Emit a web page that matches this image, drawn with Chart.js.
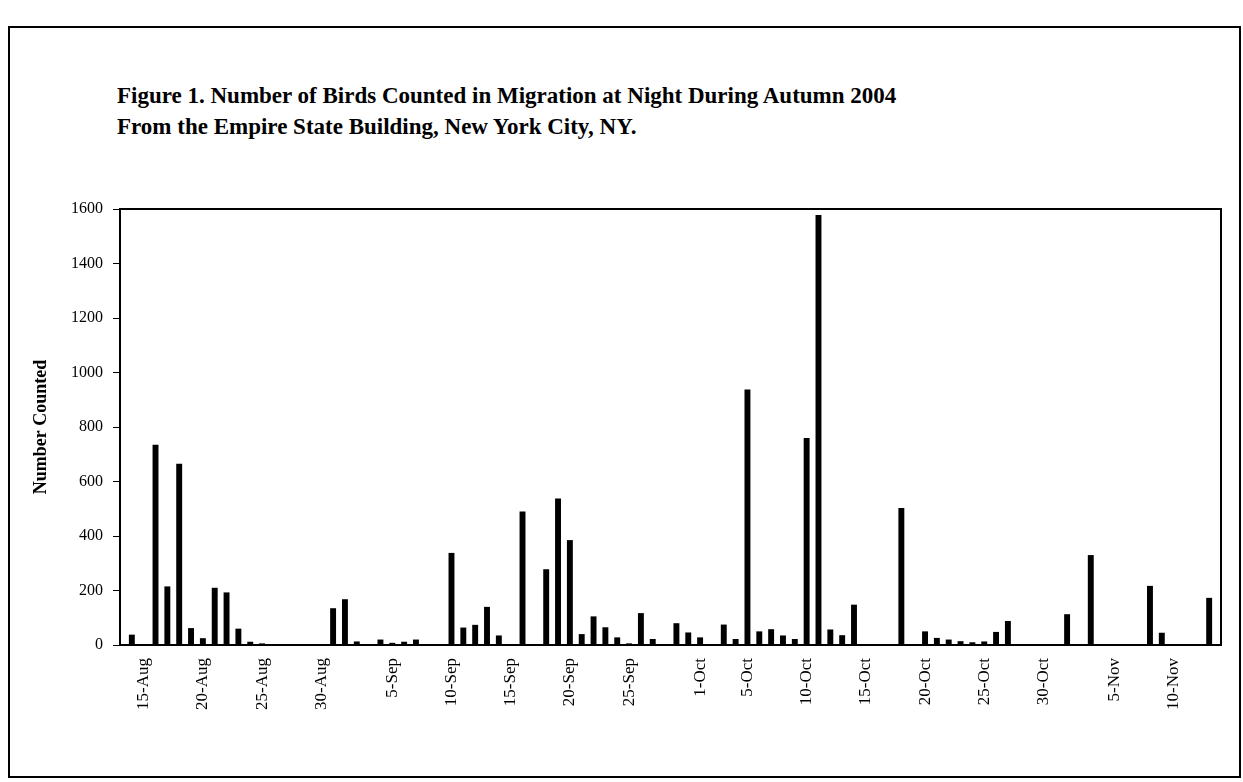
<!DOCTYPE html>
<html><head><meta charset="utf-8">
<script src="https://cdn.jsdelivr.net/npm/chart.js@4.4.1/dist/chart.umd.min.js"></script>
<style>
html,body{margin:0;padding:0;background:#fff;}
#wrap{position:relative;width:1243px;height:782px;overflow:hidden;background:#fff;}
#frame{position:absolute;left:8px;top:26px;width:1233px;height:752px;border:2px solid #000;box-sizing:border-box;}
#title{position:absolute;left:117px;top:80px;font:bold 23px 'Liberation Serif','Times New Roman',serif;line-height:31px;color:#000;white-space:nowrap;}
canvas{position:absolute;left:0;top:0;}
</style></head>
<body>
<div id="wrap">
<div id="frame"></div>
<div id="title">Figure 1. Number of Birds Counted in Migration at Night During Autumn 2004<br>From the Empire State Building, New York City, NY.</div>
<canvas id="c" width="1243" height="782"></canvas>
</div>
<script>
const categories = [
 '13-Aug','14-Aug','15-Aug','16-Aug','17-Aug','18-Aug','19-Aug','20-Aug','21-Aug','22-Aug','23-Aug','24-Aug','25-Aug','26-Aug','27-Aug','28-Aug','29-Aug','30-Aug','31-Aug',
 '1-Sep','2-Sep','3-Sep','4-Sep','5-Sep','6-Sep','7-Sep','8-Sep','9-Sep','10-Sep','11-Sep','12-Sep','13-Sep','14-Sep','15-Sep','16-Sep','17-Sep','18-Sep','19-Sep','20-Sep','21-Sep','22-Sep','23-Sep','24-Sep','25-Sep','26-Sep','27-Sep','28-Sep','29-Sep','30-Sep',
 '1-Oct','2-Oct','3-Oct','4-Oct','5-Oct','6-Oct','7-Oct','8-Oct','9-Oct','10-Oct','11-Oct','12-Oct','13-Oct','14-Oct','15-Oct','16-Oct','17-Oct','18-Oct','19-Oct','20-Oct','21-Oct','22-Oct','23-Oct','24-Oct','25-Oct','26-Oct','27-Oct','28-Oct','29-Oct','30-Oct','31-Oct',
 '1-Nov','2-Nov','3-Nov','4-Nov','5-Nov','6-Nov','7-Nov','8-Nov','9-Nov','10-Nov','11-Nov','12-Nov','13-Nov','14-Nov'
];
const birdsCounted = [
 0,38,0,735,215,665,62,25,210,193,60,12,6,0,0,0,2,0,135,
 168,13,0,20,8,12,20,0,3,338,64,74,140,35,0,490,0,278,538,385,40,105,65,28,6,117,22,0,80,46,
 28,0,75,22,938,50,58,35,22,760,1578,57,36,148,0,0,0,503,0,50,26,20,14,10,13,48,88,0,0,0,3,
 113,0,330,0,0,0,0,217,45,0,0,0,173,0
];
const shownTickLabels = ['15-Aug','20-Aug','25-Aug','30-Aug','5-Sep','10-Sep','15-Sep','20-Sep','25-Sep','1-Oct','5-Oct','10-Oct','15-Oct','20-Oct','25-Oct','30-Oct','5-Nov','10-Nov'];
const yTicks = [0,200,400,600,800,1000,1200,1400,1600];

Chart.defaults.font.family = "'Liberation Serif','Times New Roman',serif";
Chart.defaults.color = '#000';

const frameBox = {
  id: 'frameBox',
  afterDraw(chart) {
    const {ctx, chartArea: a} = chart;
    ctx.save();
    ctx.strokeStyle = '#000';
    ctx.lineWidth = 2;
    ctx.strokeRect(a.left, a.top, a.right - a.left, a.bottom - a.top);
    ctx.restore();
  }
};

new Chart(document.getElementById('c'), {
  type: 'bar',
  data: {
    labels: categories,
    datasets: [{
      data: birdsCounted,
      backgroundColor: '#000',
      borderWidth: 0,
      categoryPercentage: 1.0,
      barPercentage: 0.5
    }]
  },
  options: {
    responsive: false,
    animation: false,
    devicePixelRatio: 1,
    layout: { padding: { top: 209, right: 22, left: 0, bottom: 0 } },
    plugins: { legend: { display: false }, tooltip: { enabled: false }, title: { display: false } },
    scales: {
      x: {
        type: 'category',
        offset: false,
        grid: { display: false, drawTicks: false },
        border: { display: true, color: '#000', width: 2 },
        ticks: {
          autoSkip: false,
          minRotation: 90,
          maxRotation: 90,
          padding: 13,
          font: { size: 17 },
          color: '#000',
          callback: function(val, idx) {
            const lab = categories[idx];
            return shownTickLabels.includes(lab) ? lab : '';
          }
        },
        afterFit: function(scale) { scale.height = 137; scale.paddingLeft = 0; scale.paddingRight = 0; }
      },
      y: {
        min: 0,
        max: 1600,
        afterBuildTicks: function(scale) { scale.ticks = yTicks.map(v => ({ value: v })); },
        grid: { display: true, drawOnChartArea: false, drawTicks: true, tickLength: 7, color: '#000', lineWidth: 1 },
        border: { display: true, color: '#000', width: 2 },
        ticks: { padding: 10, font: { size: 16 }, color: '#000', callback: function(v) { return String(v); } },
        title: { display: true, text: 'Number Counted', font: { size: 18, weight: 'bold' }, color: '#000', padding: { top: 31, bottom: 0 } },
        afterFit: function(scale) { scale.width = 120; }
      }
    }
  },
  plugins: [frameBox]
});
</script>
</body></html>
